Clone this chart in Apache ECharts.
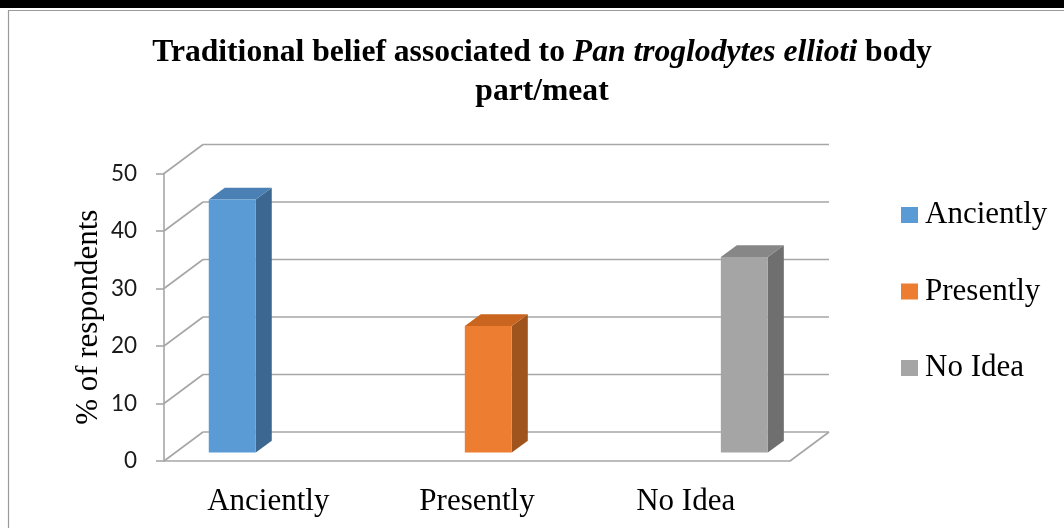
<!DOCTYPE html>
<html>
<head>
<meta charset="utf-8">
<script src="https://cdn.jsdelivr.net/npm/echarts@6/dist/echarts.min.js"></script>
<style>
html,body{margin:0;padding:0;background:#fff;}
#chart{width:1064px;height:528px;}
</style>
</head>
<body>
<div id="chart"></div>
<script>
// ---- data ----
var categories = ['Anciently', 'Presently', 'No Idea'];
var seriesNames = ['Anciently', 'Presently', 'No Idea'];
var values = [44, 22, 34];
var yTicks = [0, 10, 20, 30, 40, 50];
var titleText = '{b|Traditional belief associated to }{i|Pan troglodytes ellioti}{b| body}\n{b|part/meat}';

// ---- styles ----
var frontColors = ['#5b9bd5', '#ed7d31', '#a5a5a5'];
var topColors = ['#4a80b3', '#c9651f', '#878787'];
var sideColors = ['#3b6791', '#a0541d', '#6f6f6f'];
var gridGray = '#a6a6a6';
var DX = 39, DY = 29;          // wall depth in px
var F0 = 0.29;                 // front face depth fraction
var BD = 0.41;                 // bar depth fraction
var BAR_W = 47;
var serif = 'Liberation Serif';

var chart = echarts.init(document.getElementById('chart'), null, {renderer: 'canvas'});

function wallRender(params, api) {
  var cs = params.coordSys;
  var x0 = cs.x, x1 = cs.x + cs.width;
  var v = api.value(1);
  var y = api.coord([0, v])[1];
  var style = {stroke: gridGray, lineWidth: 1.6, fill: null};
  var children = [
    {type: 'line', shape: {x1: x0, y1: y, x2: x0 + DX, y2: y - DY}, style: style},
    {type: 'line', shape: {x1: x0 + DX, y1: y - DY, x2: x1 + DX, y2: y - DY}, style: style}
  ];
  if (v === yTicks[0]) {
    children.push({type: 'line', shape: {x1: x1, y1: y, x2: x1 + DX, y2: y - DY}, style: style});
  }
  return {type: 'group', children: children};
}

function makeBarRender(k) {
  return function (params, api) {
    var idx = api.value(0), val = api.value(1);
    var b = api.coord([idx, 0]);
    var t = api.coord([idx, val]);
    var ox = F0 * DX, oy = -F0 * DY;
    var bx = BD * DX, by = BD * DY;
    var L = b[0] + ox - BAR_W / 2, R = b[0] + ox + BAR_W / 2;
    var B = b[1] + oy, T = t[1] + oy;
    return {
      type: 'group',
      children: [
        {type: 'polygon', shape: {points: [[R, T], [R + bx, T - by], [R + bx, B - by], [R, B]]}, style: {fill: sideColors[k]}},
        {type: 'polygon', shape: {points: [[L, T], [R, T], [R + bx, T - by], [L + bx, T - by]]}, style: {fill: topColors[k]}},
        {type: 'rect', shape: {x: L, y: T, width: R - L, height: B - T}, style: {fill: frontColors[k]}}
      ]
    };
  };
}

var series = [{
  type: 'custom',
  name: 'walls',
  xAxisIndex: 1,
  yAxisIndex: 0,
  data: yTicks.map(function (v) { return [0, v]; }),
  renderItem: wallRender,
  silent: true,
  z: 1
}];
for (var k = 0; k < seriesNames.length; k++) {
  series.push({
    type: 'custom',
    name: seriesNames[k],
    xAxisIndex: 1,
    yAxisIndex: 0,
    itemStyle: {color: frontColors[k]},
    data: [[k, values[k]]],
    renderItem: makeBarRender(k),
    z: 3
  });
}

var option = {
  animation: false,
  backgroundColor: '#fff',
  graphic: [
    {type: 'rect', shape: {x: 0, y: 0, width: 1064, height: 8}, style: {fill: '#000'}, z: 0},
    {type: 'rect', shape: {x: 8.5, y: 10.5, width: 1200, height: 700}, style: {fill: null, stroke: '#9a9a9a', lineWidth: 1.2}, z: 0},
    {
      type: 'text', x: 542, y: 33, z: 5,
      style: {
        text: titleText,
        align: 'center',
        verticalAlign: 'top',
        rich: {
          b: {fontFamily: serif, fontWeight: 'bold', fontSize: 31.6, fill: '#000', lineHeight: 39},
          i: {fontFamily: serif, fontWeight: 'bold', fontStyle: 'italic', fontSize: 31.6, fill: '#000', lineHeight: 39}
        }
      }
    }
  ],
  legend: {
    orient: 'vertical',
    left: 901,
    top: 199.5,
    padding: 0,
    itemWidth: 17,
    itemHeight: 16,
    itemGap: 45.5,
    icon: 'rect',
    data: seriesNames,
    textStyle: {fontFamily: serif, fontSize: 31, color: '#000', padding: [0, 0, 0, 2]}
  },
  grid: {left: 164, right: 274, top: 173.5, bottom: 67, containLabel: false},
  xAxis: [{
    type: 'category',
    data: categories,
    axisLine: {show: true, lineStyle: {color: gridGray, width: 1.6}},
    axisTick: {show: false},
    splitLine: {show: false},
    axisLabel: {fontFamily: serif, fontSize: 31, color: '#000', margin: 25}
  }, {
    type: 'value',
    show: false,
    min: -0.2225,
    max: 2.2225,
    splitLine: {show: false}
  }],
  yAxis: {
    type: 'value',
    min: 0,
    max: 50,
    interval: 10,
    name: '% of respondents',
    nameLocation: 'middle',
    nameGap: 60,
    nameMoveOverlap: false,
    nameTextStyle: {fontFamily: serif, fontSize: 31, color: '#000'},
    axisLine: {show: true, onZero: false, lineStyle: {color: gridGray, width: 1.6}},
    axisTick: {show: true, length: 8, lineStyle: {color: gridGray, width: 1.6}},
    splitLine: {show: false},
    axisLabel: {fontFamily: 'Lato', fontSize: 22.5, color: '#1a1a1a', margin: 27}
  },
  series: series
};
chart.setOption(option);
</script>
</body>
</html>
